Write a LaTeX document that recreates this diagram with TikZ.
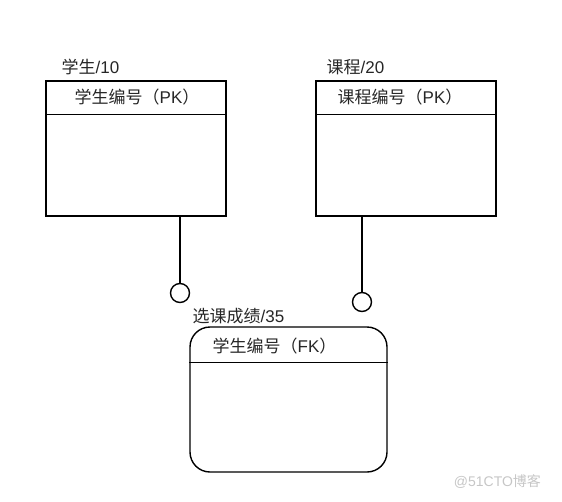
\documentclass[tikz,border=0pt]{standalone}
\usepackage{fontspec}
\setmainfont{Liberation Sans}
\newfontfamily\cjk{Noto Sans CJK SC}
\usetikzlibrary{positioning}
\tikzstyle{ent}=[draw,minimum width=180pt,minimum height=135pt,inner sep=0pt]
\tikzstyle{rel}=[draw,circle,minimum size=19pt,inner sep=0pt]
\tikzstyle{lbl}=[anchor=west,inner sep=0pt,text=black!85,font=\fontsize{17}{17}\selectfont]

\begin{document}
\begin{tikzpicture}[x=1pt,y=-1pt,line width=1.4pt]
\useasboundingbox (0,0) rectangle (562,501);
\def\hdr#1#2{\draw ([yshift=-#2]#1.north west) -- ([yshift=-#2]#1.north east);}
\def\key#1#2{{\cjk #1（}#2{\cjk ）}}
\node[ent] (stu) at (136,148.5) {};
\node[ent] (crs) at (406,148.5) {};
\node[ent,rounded corners=20pt,minimum width=197pt,minimum height=145pt] (sc) at (288.5,399.5) {};
\hdr{stu}{34pt} \hdr{crs}{34pt} \hdr{sc}{36pt}
\node[lbl] (stut) at (61,67) {{\cjk 学生}/10};
\node[lbl] (crst) at (326,67) {{\cjk 课程}/20};
\node[lbl] (sct) at (192,316) {{\cjk 选课成绩}/35};
\node[lbl] (stuk) at (74,97) {\key{学生编号}{PK}};
\node[lbl] (crsk) at (337,97) {\key{课程编号}{PK}};
\node[lbl] (sck) at (212,346) {\key{学生编号}{FK}};
\node[rel] (c1) at (180,293) {};
\node[rel] (c2) at (362,302) {};
\draw (stu.south -| c1) -- (c1);
\draw (crs.south -| c2) -- (c2);
\node[anchor=east,text=gray!45,font=\fontsize{14}{14}\selectfont] (wm) at (545,482) {@51CTO{\cjk 博客}};
\end{tikzpicture}
\end{document}
